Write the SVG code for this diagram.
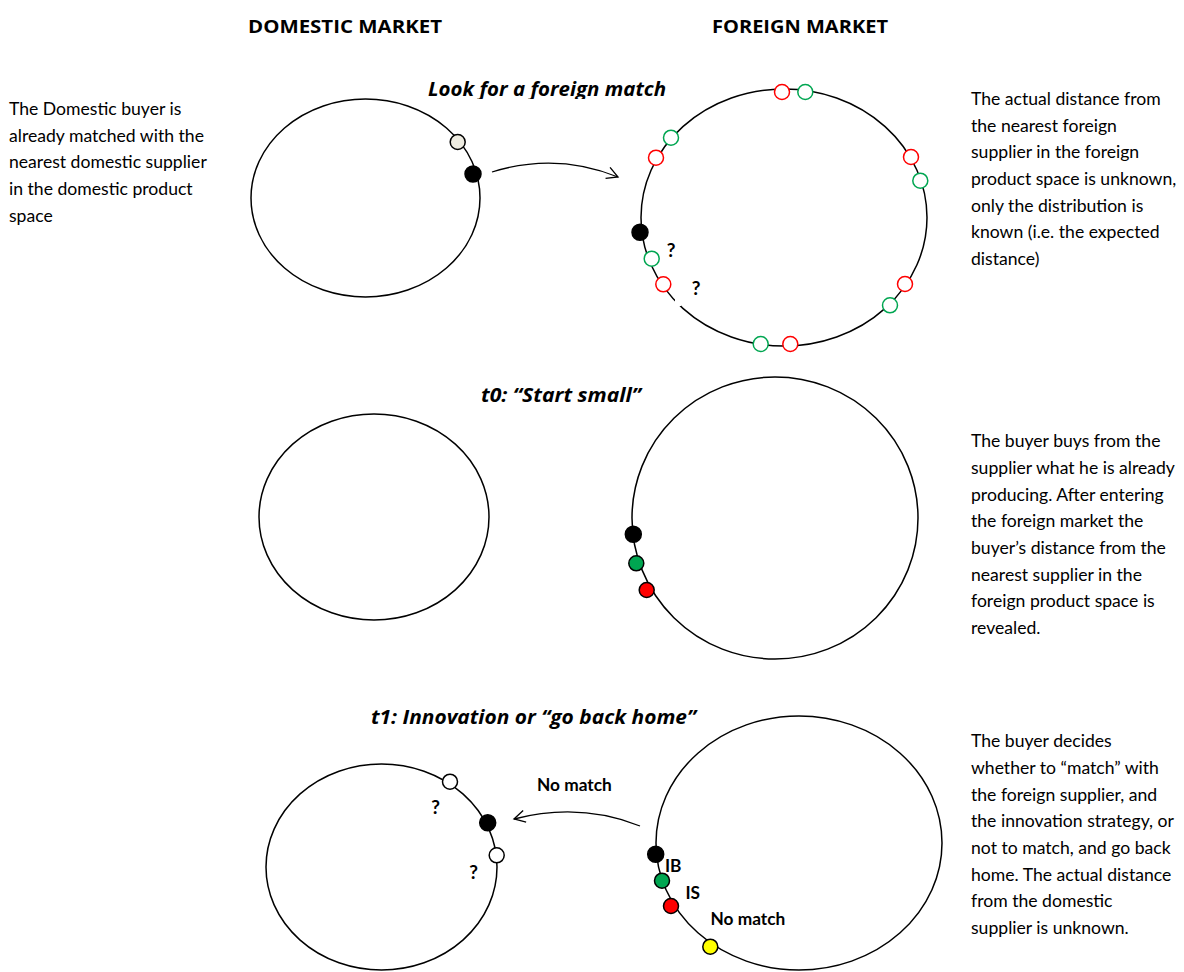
<svg xmlns="http://www.w3.org/2000/svg" width="1184" height="972" viewBox="0 0 1184 972">
<style>
.t{font-family:Lato,"Open Sans","Liberation Sans",sans-serif;font-size:17.6px;fill:#000}
.h{font-family:"Open Sans",Lato,"Liberation Sans",sans-serif;font-size:17.5px;font-weight:bold;fill:#000}
.ti{font-family:"Open Sans",Lato,"Liberation Sans",sans-serif;font-size:20px;font-weight:bold;font-style:italic;fill:#000}
.b{font-family:Lato,"Open Sans","Liberation Sans",sans-serif;font-size:17.3px;font-weight:bold;fill:#000}
.q{font-family:Lato,"Open Sans","Liberation Sans",sans-serif;font-size:19px;font-weight:bold;fill:#000}
.e{fill:none;stroke:#000;stroke-width:1.5}
.d{stroke-width:1.5}
.oR{fill:#fff;stroke:#ff0000}
.oG{fill:#fff;stroke:#00a651}
.k{fill:#000;stroke:#000}
.w{fill:#fff;stroke:#000}
.g{fill:#00a651;stroke:#000}
.r{fill:#ff0000;stroke:#000}
.y{fill:#ffff00;stroke:#000}
.c{fill:none;stroke:#000;stroke-width:1.3}
</style>
<defs>
<marker id="ah" markerWidth="14" markerHeight="14" refX="12" refY="7" orient="auto" markerUnits="userSpaceOnUse">
<path d="M1,1 L12,7 L1,13" fill="none" stroke="#000" stroke-width="1.3"/>
</marker>
<clipPath id="clipTitle"><rect x="0" y="0" width="1184" height="99"/></clipPath>
</defs>
<rect width="1184" height="972" fill="#fff"/>

<g id="headers">
<text class="h" x="248" y="33" textLength="194" lengthAdjust="spacingAndGlyphs">DOMESTIC MARKET</text>
<text class="h" x="712" y="33" textLength="176" lengthAdjust="spacingAndGlyphs">FOREIGN MARKET</text>
<text class="ti" x="428" y="96" textLength="238" lengthAdjust="spacingAndGlyphs" clip-path="url(#clipTitle)">Look for a foreign match</text>
<text class="ti" x="481" y="402" textLength="160" lengthAdjust="spacingAndGlyphs">t0: “Start small”</text>
<text class="ti" x="371" y="724" textLength="325" lengthAdjust="spacingAndGlyphs">t1: Innovation or “go back home”</text>
</g>

<g id="note-left">
<text class="t" x="9" y="115">The Domestic buyer is</text>
<text class="t" x="9" y="141.7">already matched with the</text>
<text class="t" x="9" y="168.3">nearest domestic supplier</text>
<text class="t" x="9" y="195">in the domestic product</text>
<text class="t" x="9" y="221.7">space</text>
</g>

<g id="note-right-1">
<text class="t" x="971" y="105">The actual distance from</text>
<text class="t" x="971" y="131.7">the nearest foreign</text>
<text class="t" x="971" y="158.3">supplier in the foreign</text>
<text class="t" x="971" y="185">product space is unknown,</text>
<text class="t" x="971" y="211.7">only the distribution is</text>
<text class="t" x="971" y="238.3">known (i.e. the expected</text>
<text class="t" x="971" y="265">distance)</text>
</g>

<g id="note-right-2">
<text class="t" x="971" y="447.3">The buyer buys from the</text>
<text class="t" x="971" y="474">supplier what he is already</text>
<text class="t" x="971" y="500.7">producing. After entering</text>
<text class="t" x="971" y="527.3">the foreign market the</text>
<text class="t" x="971" y="554">buyer’s distance from the</text>
<text class="t" x="971" y="580.7">nearest supplier in the</text>
<text class="t" x="971" y="607.3">foreign product space is</text>
<text class="t" x="971" y="634">revealed.</text>
</g>

<g id="note-right-3">
<text class="t" x="971" y="747.3">The buyer decides</text>
<text class="t" x="971" y="774">whether to “match” with</text>
<text class="t" x="971" y="800.7">the foreign supplier, and</text>
<text class="t" x="971" y="827.3">the innovation strategy, or</text>
<text class="t" x="971" y="854">not to match, and go back</text>
<text class="t" x="971" y="880.7">home. The actual distance</text>
<text class="t" x="971" y="907.3">from the domestic</text>
<text class="t" x="971" y="934">supplier is unknown.</text>
</g>

<g id="connectors">
<path class="c" d="M492,172 Q556,152 618,177" marker-end="url(#ah)"/>
<path class="c" d="M640,826 Q580,802 514,819" marker-end="url(#ah)"/>
</g>

<g id="domestic-1">
<ellipse class="e" cx="365.5" cy="198" rx="114.5" ry="99"/>
<circle class="d" cx="457.7" cy="142" r="7.5" fill="#eeece1" stroke="#000"/>
<circle class="d k" cx="473" cy="174" r="8"/>
</g>

<g id="foreign-1">
<ellipse class="e" cx="784" cy="217.5" rx="143" ry="128.5"/>
<rect x="675" y="298" width="6" height="8" fill="#fff"/>
<circle class="d oR" cx="782" cy="92" r="7.5"/>
<circle class="d oG" cx="805.3" cy="92" r="7.5"/>
<circle class="d oG" cx="671" cy="137.7" r="7.5"/>
<circle class="d oR" cx="656" cy="157.7" r="7.5"/>
<circle class="d oR" cx="911" cy="157" r="7.5"/>
<circle class="d oG" cx="920.3" cy="180.7" r="7.5"/>
<circle class="d k" cx="640" cy="232.3" r="8"/>
<circle class="d oG" cx="651.7" cy="258.7" r="7.5"/>
<circle class="d oR" cx="663.3" cy="284.3" r="7.5"/>
<circle class="d oR" cx="905" cy="284" r="7.5"/>
<circle class="d oG" cx="890" cy="305.3" r="7.5"/>
<circle class="d oG" cx="760.7" cy="344" r="7.5"/>
<circle class="d oR" cx="790.3" cy="344" r="7.5"/>
<text class="q" x="671" y="257" text-anchor="middle">?</text>
<text class="q" x="696" y="295" text-anchor="middle">?</text>
</g>

<g id="domestic-2">
<ellipse class="e" cx="374" cy="517" rx="115" ry="103"/>
</g>

<g id="foreign-2">
<ellipse class="e" cx="775" cy="518" rx="143" ry="141"/>
<circle class="d k" cx="633.3" cy="534.3" r="8"/>
<circle class="d g" cx="636.3" cy="563.3" r="7.5"/>
<circle class="d r" cx="646.7" cy="590" r="7.5"/>
</g>

<g id="domestic-3">
<ellipse class="e" cx="381.5" cy="867" rx="115.5" ry="103"/>
<circle class="d w" cx="450" cy="781.7" r="7.5"/>
<circle class="d k" cx="487.7" cy="822.7" r="8"/>
<circle class="d w" cx="496.7" cy="855.3" r="7.5"/>
<text class="q" x="435.7" y="814" text-anchor="middle">?</text>
<text class="q" x="473.7" y="879" text-anchor="middle">?</text>
<text class="b" x="537" y="791">No match</text>
</g>

<g id="foreign-3">
<ellipse class="e" cx="799" cy="843" rx="143" ry="127"/>
<circle class="d k" cx="655.7" cy="854.3" r="8"/>
<circle class="d g" cx="662" cy="880.7" r="7.5"/>
<circle class="d r" cx="671" cy="906" r="7.5"/>
<circle class="d y" cx="710.3" cy="946.7" r="7.5"/>
<text class="b" x="665" y="872">IB</text>
<text class="b" x="685.5" y="899">IS</text>
<text class="b" x="710.5" y="925">No match</text>
</g>
</svg>
